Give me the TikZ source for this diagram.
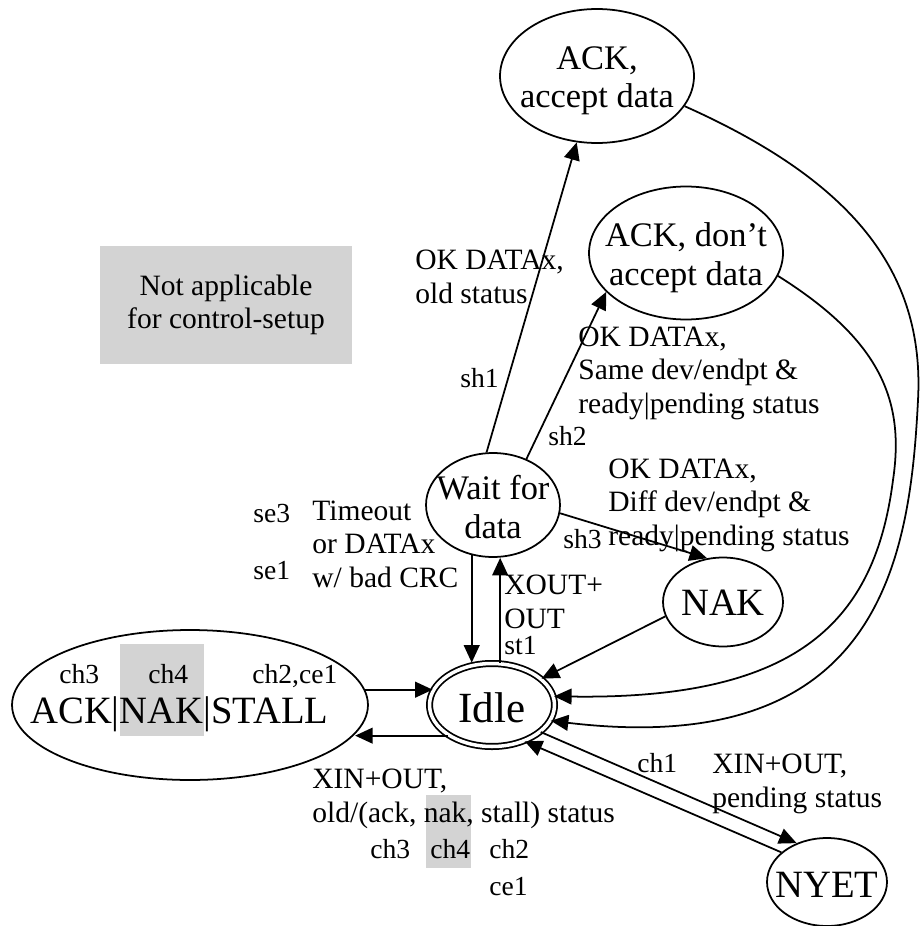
\documentclass[tikz,border=0pt]{standalone}
\usepackage{fontspec}
\setmainfont{Liberation Serif}
\usetikzlibrary{arrows.meta,shapes.geometric}
\definecolor{boxgray}{RGB}{211,211,211}

\begin{document}
\begin{tikzpicture}[x=0.02cm,y=-0.02cm,
    st/.style={ellipse,draw,line width=1pt,inner sep=0pt},
    sttxt/.style={anchor=base,align=center,inner sep=0pt,font=\fontsize{19.6}{22}\selectfont},
    bigtxt/.style={anchor=base,inner sep=0pt,font=\fontsize{22}{24}\selectfont},
    lbl/.style={anchor=base west,align=left,inner sep=0pt,font=\fontsize{16.8}{18.8}\selectfont},
    code/.style={anchor=base west,inner sep=0pt,font=\fontsize{15.7}{17}\selectfont},
    tr/.style={-{Triangle[length=10pt,width=9pt]},line width=1pt}]

\useasboundingbox (0,0) rectangle (921,926);

% States (text placed at the baseline of its last line)
\node[st,minimum width=3.88cm,minimum height=2.68cm] (ackacc) at (597,76) {};
\node[sttxt] (ackacctxt) at (597,108) {ACK,\\accept data};
\node[st,minimum width=3.88cm,minimum height=2.66cm] (ackdont) at (686,253) {};
\node[sttxt] (ackdonttxt) at (686,285) {ACK, don't\\accept data};
\node[st,minimum width=2.68cm,minimum height=2.08cm] (wait) at (493,505) {};
\node[sttxt] (waittxt) at (493,538) {Wait for\\data};
\node[st,minimum width=2.4cm,minimum height=1.78cm] (nak) at (723,602) {};
\node[bigtxt] (naktxt) at (723,615) {NAK};
\node[st,double,double distance=2pt,minimum width=2.5cm,minimum height=1.66cm] (idle) at (492,705) {};
\node[bigtxt,font=\fontsize{24.5}{26}\selectfont] (idletxt) at (492,722) {Idle};
\node[st,minimum width=2.4cm,minimum height=1.76cm] (nyet) at (827,882) {};
\node[bigtxt] (nyettxt) at (827,897) {NYET};

% Handshake state on the left
\node[st,minimum width=7.12cm,minimum height=3cm] (stall) at (190,705) {};
\fill[boxgray] (120,644) rectangle (204,736);
\node[code] (stch3) at (59,683) {ch3};
\node[code] (stch4) at (148,683) {ch4};
\node[code] (stch2) at (252,683) {ch2,ce1};
\node[bigtxt,anchor=base west] (stalltxt) at (30,723) {ACK|NAK|STALL};

% Note
\node[fill=boxgray,minimum width=5.04cm,minimum height=2.38cm,align=center,
    font=\fontsize{16.8}{18.8}\selectfont] (na) at (226,305) {Not applicable\\for control-setup};

% Transitions
\draw[tr] (wait.97) -- (ackacc.253);
\draw[tr] (wait.54) -- (ackdont.206);
\draw[tr] (wait.-7) -- (nak.110);
\draw[tr] (wait.-113) -- (wait.-113 |- idle.north);
\draw[tr] (idle.79) -- (idle.79 |- wait.south);
\draw[tr] (nak.194) -- (idle.28);
\draw[tr] (ackdont.-14) .. controls (880,340) and (905,400) .. (893,480)
    .. controls (875,620) and (800,700) .. (idle.8);
\draw[tr] (ackacc.-19) .. controls (850,180) and (925,270) .. (918,400)
    .. controls (910,560) and (880,760) .. (idle.-15);
\draw[tr] (stall.5) -- (stall.5 -| idle.166);
\draw[tr] (idle.215) -- (idle.215 -| stall.-10);
\draw[tr] (idle.-29) -- (nyet.128);
\draw[tr] (nyet.147) -- (idle.-48);

% Transition labels
\node[lbl] (lok1) at (415,303) {OK DATAx,\\old status};
\node[code] (lsh1) at (460,387) {sh1};
\node[lbl] (lok2) at (578,413) {OK DATAx,\\Same dev/endpt \&\\ready|pending status};
\node[code] (lsh2) at (548,445) {sh2};
\node[lbl] (lok3) at (608,545) {OK DATAx,\\Diff dev/endpt \&\\ready|pending status};
\node[code] (lsh3) at (563,548) {sh3};
\node[lbl] (lxout) at (504,628) {XOUT+\\OUT};
\node[code] (lst1) at (504,654) {st1};
\node[code] (lse3) at (253,522) {se3};
\node[code] (lse1) at (253,579) {se1};
\node[lbl] (lto) at (312,587) {Timeout\\or DATAx\\w/ bad CRC};
\fill[boxgray] (426,795) rectangle (471,868);
\node[lbl] (lxin) at (312,822) {XIN+OUT,\\old/(ack, nak, stall) status};
\node[code] (lch3) at (370,858) {ch3};
\node[code] (lch4) at (430,858) {ch4};
\node[code] (lch2) at (489,858) {ch2};
\node[code] (lce1) at (489,895) {ce1};
\node[code] (lch1) at (637,772) {ch1};
\node[lbl] (lpend) at (712,807) {XIN+OUT,\\pending status};

\end{tikzpicture}
\end{document}
